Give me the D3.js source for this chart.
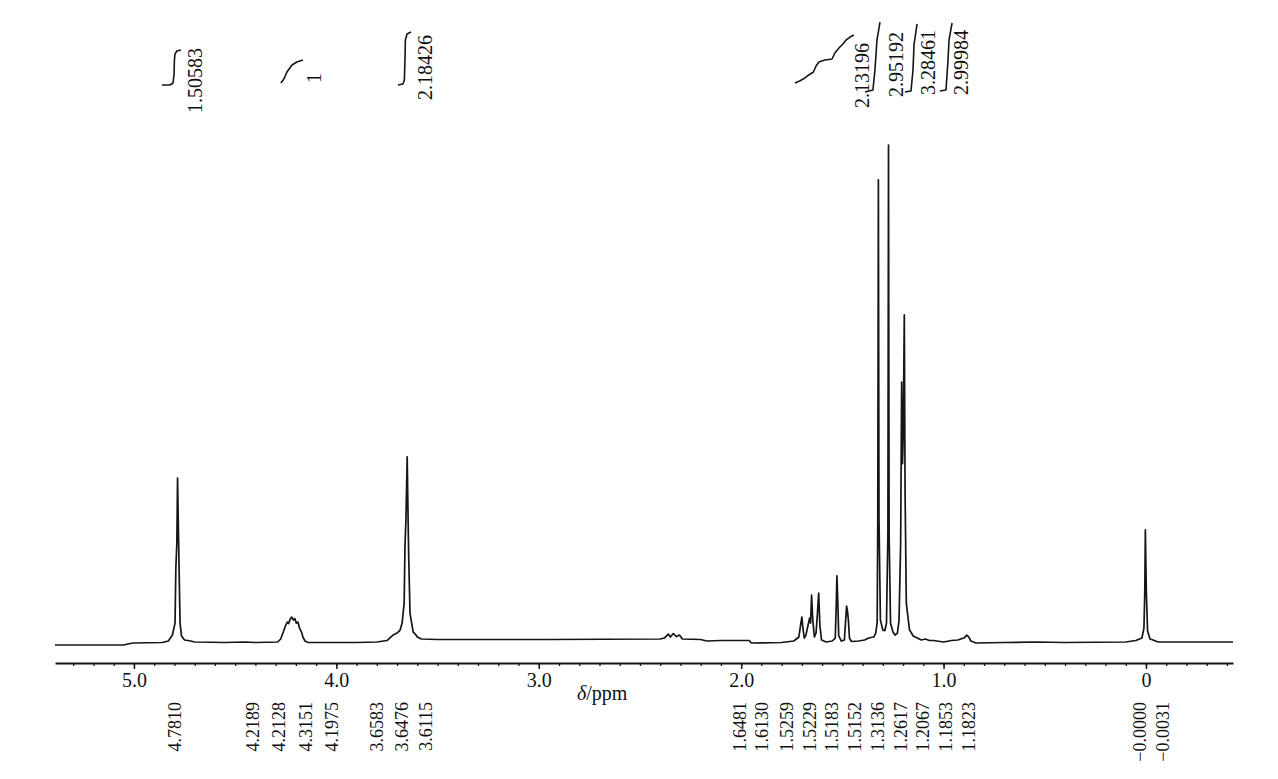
<!DOCTYPE html>
<html>
<head>
<meta charset="utf-8">
<script src="https://cdn.jsdelivr.net/npm/d3@7"></script>
<style>
  body { margin: 0; background: #fff; }
  svg { display: block; }
</style>
</head>
<body>
<svg id="chart" width="1278" height="779"></svg>
<script>
// spectrum trace: [ppm, intensity], tallest line = 100
var spectrum = [
  [5.39, -0.4], [5.05, -0.4], [5.02, -0.1], [5.00, 0], [4.86, 0.1], [4.83, 0.4],
  [4.81, 1.6], [4.797, 4.0], [4.793, 15], [4.788, 20], [4.7845, 33.1], [4.780, 22],
  [4.777, 15], [4.772, 4.0], [4.765, 1.4], [4.75, 0.6], [4.72, 0.4], [4.70, 0.2],
  [4.55, 0.1], [4.45, 0.2], [4.40, 0.1], [4.29, 0.2], [4.275, 0.8], [4.262, 2.2],
  [4.250, 3.6], [4.242, 4.2], [4.236, 3.9], [4.228, 4.8], [4.220, 5.2], [4.212, 4.6],
  [4.205, 4.9], [4.198, 4.0], [4.190, 4.2], [4.182, 3.0], [4.172, 2.2], [4.165, 1.2],
  [4.155, 0.4], [4.14, 0.1], [3.90, 0.1], [3.80, 0.2], [3.75, 0.5], [3.72, 1.6],
  [3.70, 2.0], [3.685, 2.6], [3.675, 4.0], [3.665, 8.0], [3.661, 19.2], [3.656, 25],
  [3.650, 37.4], [3.646, 26], [3.642, 16.3], [3.636, 6.0], [3.628, 4.0], [3.620, 2.2],
  [3.610, 1.8], [3.600, 1.2], [3.58, 0.8], [3.50, 0.7], [2.95, 0.7], [2.40, 0.8],
  [2.38, 1.0], [2.36, 1.8], [2.35, 1.2], [2.335, 1.9], [2.32, 1.3], [2.305, 1.6],
  [2.29, 0.8], [2.20, 0.7], [2.17, 0.4], [2.10, 0.5], [1.96, 0.5], [1.95, 0.0],
  [1.80, 0.1], [1.74, 0.4], [1.715, 1.2], [1.705, 4.0], [1.700, 5.2], [1.695, 3.0],
  [1.688, 1.0], [1.680, 1.6], [1.670, 3.5], [1.662, 5.0], [1.657, 4.0], [1.652, 9.6],
  [1.646, 4.5], [1.638, 1.2], [1.630, 2.0], [1.623, 6.0], [1.617, 10.0], [1.611, 3.5],
  [1.603, 0.6], [1.58, 0.2], [1.55, 0.4], [1.535, 1.0], [1.530, 8.0], [1.527, 13.5],
  [1.523, 9.0], [1.518, 1.5], [1.505, 0.4], [1.49, 0.6], [1.483, 5.0], [1.479, 7.4],
  [1.475, 6.5], [1.470, 4.5], [1.465, 1.0], [1.455, 0.3], [1.42, 0.4], [1.39, 0.6],
  [1.37, 1.0], [1.345, 1.2], [1.335, 2.0], [1.328, 4.2], [1.325, 25], [1.322, 93],
  [1.319, 25], [1.312, 4.6], [1.300, 2.6], [1.290, 2.5], [1.282, 4.0], [1.275, 22],
  [1.272, 100], [1.269, 22], [1.262, 4.0], [1.250, 2.2], [1.240, 1.6], [1.228, 2.0],
  [1.220, 4.5], [1.212, 20], [1.207, 52.4], [1.203, 36], [1.199, 42], [1.194, 65.9],
  [1.190, 30], [1.184, 8.0], [1.176, 5.2], [1.168, 2.6], [1.160, 2.1], [1.150, 1.4],
  [1.130, 1.0], [1.110, 0.6], [1.090, 0.8], [1.070, 0.5], [1.050, 0.5], [1.000, 0.2],
  [0.960, 0.5], [0.930, 0.6], [0.900, 1.0], [0.885, 1.6], [0.875, 1.2], [0.865, 0.4],
  [0.84, 0.0], [0.70, 0.1], [0.55, 0.2], [0.40, 0.1], [0.10, 0.2], [0.05, 0.5],
  [0.02, 1.0], [0.010, 3.0], [0.006, 10], [0.003, 22.7], [-0.002, 10], [-0.008, 2.4],
  [-0.020, 0.8], [-0.035, 0.6], [-0.06, 0.2], [-0.2, 0.2], [-0.43, 0.2]
];

var majorTicks = [5, 4, 3, 2, 1, 0];

// peak pick labels and where each one sits along the shift axis
var peakLabels = ["4.7810", "4.2189", "4.2128", "4.3151", "4.1975", "3.6583", "3.6476", "3.6115",
  "1.6481", "1.6130", "1.5259", "1.5229", "1.5183", "1.5152", "1.3136", "1.2617", "1.2067",
  "1.1853", "1.1823", "\u22120.0000", "\u22120.0031"];
var peakLabelPpm = [4.797, 4.412, 4.284, 4.150, 4.022, 3.799, 3.676, 3.557,
  2.006, 1.897, 1.774, 1.660, 1.551, 1.438, 1.324, 1.211, 1.102, 0.988, 0.875, 0.030, -0.084];

// integral curves: [ppm, level]
var int1 = [[4.862, 13.3], [4.822, 13.3], [4.807, 16], [4.802, 26.7], [4.800, 46.7], [4.797, 54.7], [4.788, 58.7], [4.768, 60]];
var int2 = [[4.274, 16], [4.259, 21.3], [4.244, 30.7], [4.219, 40], [4.195, 44], [4.165, 46.7]];
var int3 = [[3.696, 13.3], [3.671, 14.7], [3.664, 20], [3.661, 46.7], [3.659, 73.3], [3.651, 81.3], [3.631, 84]];
var int4 = [[1.734, 16], [1.711, 18.7], [1.685, 22.7], [1.666, 26.7], [1.643, 30.7], [1.630, 38.7], [1.616, 44],
  [1.586, 46.7], [1.551, 48], [1.537, 56], [1.517, 62.7], [1.497, 68], [1.482, 73.3], [1.462, 77.3], [1.443, 80]];
var int5 = [[1.388, 4], [1.349, 6.7], [1.339, 33.3], [1.329, 73.3], [1.314, 97.3]];
var int6 = [[1.191, 4], [1.161, 5.3], [1.151, 33.3], [1.146, 66.7], [1.131, 94.7]];
var int7 = [[1.018, 5.3], [0.988, 6.7], [0.978, 46.7], [0.973, 73.3], [0.958, 96]];
var integrals = [int1, int2, int3, int4, int5, int6, int7];

var integralValues = ["1.50583", "1", "2.18426", "2.13196", "2.95192", "3.28461", "2.99984"];
var integralLabelPpm = [4.699, 4.111, 3.562, 1.403, 1.235, 1.077, 0.914];

var serif = "'Liberation Serif', 'Times New Roman', serif";
var svg = d3.select("#chart");

var x = d3.scaleLinear().domain([5.39, -0.43]).range([55, 1233]);
var y = d3.scaleLinear().domain([0, 100]).range([643, 145]);
var yInt = d3.scaleLinear().domain([0, 100]).range([95, 20]);

// spectrum
var line = d3.line()
  .x(function(d) { return x(d[0]); })
  .y(function(d) { return y(d[1]); });

svg.append("path")
  .datum(spectrum)
  .attr("d", line)
  .attr("fill", "none")
  .attr("stroke", "#151515")
  .attr("stroke-width", 1.7)
  .attr("stroke-linejoin", "round");

// integrals
var intLine = d3.line()
  .x(function(d) { return x(d[0]); })
  .y(function(d) { return yInt(d[1]); });

svg.selectAll(".integral")
  .data(integrals)
  .enter().append("path")
  .attr("class", "integral")
  .attr("d", intLine)
  .attr("fill", "none")
  .attr("stroke", "#151515")
  .attr("stroke-width", 1.6)
  .attr("stroke-linejoin", "round");

// integral values, rotated, bottom ends where they sit in the picture
var intLabelBottom = [113, 78, 100, 108, 97, 95, 95];
svg.selectAll(".intlabel")
  .data(integralValues)
  .enter().append("text")
  .attr("class", "intlabel")
  .attr("transform", function(d, i) { return "translate(" + x(integralLabelPpm[i]) + "," + intLabelBottom[i] + ") rotate(-90)"; })
  .attr("text-anchor", function(d, i) { return i === 1 ? "middle" : "start"; })
  .attr("dy", "0.35em")
  .attr("font-family", serif)
  .attr("font-size", 20)
  .attr("fill", "#111")
  .text(function(d) { return d; });

// axis
var minorTicks = d3.range(-4, 54).map(function(d) { return d / 10; });

svg.append("g")
  .attr("transform", "translate(0,663)")
  .call(d3.axisBottom(x).tickValues(minorTicks).tickSize(3).tickSizeOuter(0).tickFormat(""))
  .call(function(g) {
    g.select(".domain").attr("stroke", "#151515").attr("stroke-width", 2);
    g.selectAll(".tick line").attr("stroke", "#151515").attr("stroke-width", 1.3);
  });

svg.append("g")
  .attr("transform", "translate(0,663)")
  .call(d3.axisBottom(x).tickValues(majorTicks).tickSize(6).tickPadding(4)
    .tickFormat(function(d) { return d === 0 ? "0" : d3.format(".1f")(d); }))
  .call(function(g) {
    g.select(".domain").remove();
    g.selectAll(".tick line").attr("stroke", "#151515").attr("stroke-width", 1.5);
    g.selectAll(".tick text")
      .attr("font-family", serif)
      .attr("font-size", 20)
      .attr("fill", "#111");
  });

var axisTitle = svg.append("text")
  .attr("x", 577)
  .attr("y", 700)
  .attr("font-family", serif)
  .attr("font-size", 20)
  .attr("fill", "#111");
axisTitle.append("tspan").attr("font-style", "italic").text("\u03b4");
axisTitle.append("tspan").text("/ppm");

// peak labels
svg.selectAll(".peaklabel")
  .data(peakLabels)
  .enter().append("text")
  .attr("class", "peaklabel")
  .attr("transform", function(d, i) { return "translate(" + x(peakLabelPpm[i]) + ",702) rotate(-90)"; })
  .attr("text-anchor", "end")
  .attr("dy", "0.35em")
  .attr("font-family", serif)
  .attr("font-size", 18)
  .attr("fill", "#111")
  .text(function(d) { return d; });
</script>
</body>
</html>
